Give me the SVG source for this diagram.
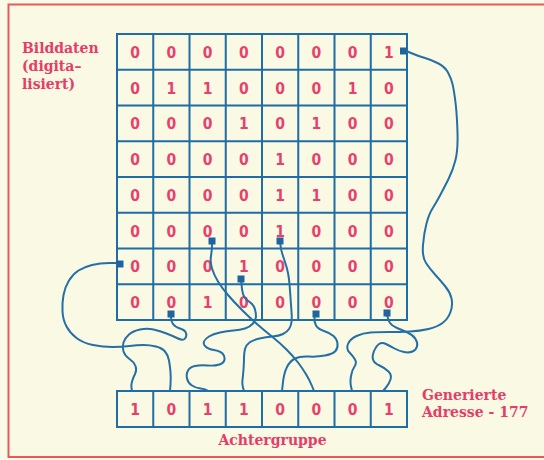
<svg xmlns="http://www.w3.org/2000/svg" width="544" height="460" viewBox="0 0 544 460">
<style>
.lbl{font-family:"DejaVu Serif","Liberation Serif",serif;font-weight:bold;font-size:14px;fill:#e63d68}
.d{font-family:"DejaVu Sans Condensed","Liberation Sans",Arial,sans-serif;font-weight:bold;font-size:15.5px;fill:#e8406c;text-anchor:middle}
.grid{fill:none;stroke:#1f6da4;stroke-width:2}
.wire{fill:none;stroke:#2470a6;stroke-width:2;stroke-linecap:round;stroke-linejoin:round}
.dot{fill:#1f64a0}
</style>
<rect x="0" y="0" width="544" height="460" fill="#fafae8"/>
<rect x="8.5" y="4.5" width="600" height="452.5" fill="#f9f9e4" stroke="#e85a5a" stroke-width="2"/>

<g id="label-bilddaten">
<text class="lbl" x="22" y="53">Bilddaten</text>
<text class="lbl" x="22" y="71">(digita–</text>
<text class="lbl" x="22" y="89">lisiert)</text>
</g>
<g id="label-adresse">
<text class="lbl" x="422" y="400">Generierte</text>
<text class="lbl" x="422" y="417">Adresse - 177</text>
</g>
<g id="label-achtergruppe">
<text class="lbl" x="272.5" y="445" text-anchor="middle">Achtergruppe</text>
</g>

<g id="bildmatrix">
<rect class="grid" x="117" y="34" width="290" height="286"/>
<path class="grid" d="M153.25,34V320M189.5,34V320M225.75,34V320M262,34V320M298.25,34V320M334.5,34V320M370.75,34V320M117,69.75H407M117,105.5H407M117,141.25H407M117,177H407M117,212.75H407M117,248.5H407M117,284.25H407"/>
<g>
<text class="d" x="135.1" y="57.8">0</text><text class="d" x="171.4" y="57.8">0</text><text class="d" x="207.6" y="57.8">0</text><text class="d" x="243.9" y="57.8">0</text><text class="d" x="280.1" y="57.8">0</text><text class="d" x="316.4" y="57.8">0</text><text class="d" x="352.6" y="57.8">0</text><text class="d" x="388.9" y="57.8">1</text>
<text class="d" x="135.1" y="93.6">0</text><text class="d" x="171.4" y="93.6">1</text><text class="d" x="207.6" y="93.6">1</text><text class="d" x="243.9" y="93.6">0</text><text class="d" x="280.1" y="93.6">0</text><text class="d" x="316.4" y="93.6">0</text><text class="d" x="352.6" y="93.6">1</text><text class="d" x="388.9" y="93.6">0</text>
<text class="d" x="135.1" y="129.3">0</text><text class="d" x="171.4" y="129.3">0</text><text class="d" x="207.6" y="129.3">0</text><text class="d" x="243.9" y="129.3">1</text><text class="d" x="280.1" y="129.3">0</text><text class="d" x="316.4" y="129.3">1</text><text class="d" x="352.6" y="129.3">0</text><text class="d" x="388.9" y="129.3">0</text>
<text class="d" x="135.1" y="165.1">0</text><text class="d" x="171.4" y="165.1">0</text><text class="d" x="207.6" y="165.1">0</text><text class="d" x="243.9" y="165.1">0</text><text class="d" x="280.1" y="165.1">1</text><text class="d" x="316.4" y="165.1">0</text><text class="d" x="352.6" y="165.1">0</text><text class="d" x="388.9" y="165.1">0</text>
<text class="d" x="135.1" y="200.8">0</text><text class="d" x="171.4" y="200.8">0</text><text class="d" x="207.6" y="200.8">0</text><text class="d" x="243.9" y="200.8">0</text><text class="d" x="280.1" y="200.8">1</text><text class="d" x="316.4" y="200.8">1</text><text class="d" x="352.6" y="200.8">0</text><text class="d" x="388.9" y="200.8">0</text>
<text class="d" x="135.1" y="236.6">0</text><text class="d" x="171.4" y="236.6">0</text><text class="d" x="207.6" y="236.6">0</text><text class="d" x="243.9" y="236.6">0</text><text class="d" x="280.1" y="236.6">1</text><text class="d" x="316.4" y="236.6">0</text><text class="d" x="352.6" y="236.6">0</text><text class="d" x="388.9" y="236.6">0</text>
<text class="d" x="135.1" y="272.3">0</text><text class="d" x="171.4" y="272.3">0</text><text class="d" x="207.6" y="272.3">0</text><text class="d" x="243.9" y="272.3">1</text><text class="d" x="280.1" y="272.3">0</text><text class="d" x="316.4" y="272.3">0</text><text class="d" x="352.6" y="272.3">0</text><text class="d" x="388.9" y="272.3">0</text>
<text class="d" x="135.1" y="308.1">0</text><text class="d" x="171.4" y="308.1">0</text><text class="d" x="207.6" y="308.1">1</text><text class="d" x="243.9" y="308.1">0</text><text class="d" x="280.1" y="308.1">0</text><text class="d" x="316.4" y="308.1">0</text><text class="d" x="352.6" y="308.1">0</text><text class="d" x="388.9" y="308.1">0</text>
</g>
</g>

<g id="achtergruppe">
<rect class="grid" x="117" y="391" width="290" height="36"/>
<path class="grid" d="M153.25,391V427M189.5,391V427M225.75,391V427M262,391V427M298.25,391V427M334.5,391V427M370.75,391V427"/>
<text class="d" x="135.1" y="414.8">1</text><text class="d" x="171.4" y="414.8">0</text><text class="d" x="207.6" y="414.8">1</text><text class="d" x="243.9" y="414.8">1</text><text class="d" x="280.1" y="414.8">0</text><text class="d" x="316.4" y="414.8">0</text><text class="d" x="352.6" y="414.8">0</text><text class="d" x="388.9" y="414.8">1</text>
</g>

<g id="connectors">
<path class="wire" d="M404,50 L411,53 Q418,56 425,58 Q432,60 438.5,63.5 Q445,67 448,72.5 Q451,78 452.5,84 Q454,90 455.5,102.5 Q457,115 457.5,132.5 Q458,150 455.5,160 Q453,170 448.5,179 Q444,188 440,195.5 Q436,203 432.5,208.5 Q429,214 426.5,223.5 Q424,233 423,245 Q422,257 426,263 Q430,269 435,274.5 Q440,280 445,286 Q450,292 451.5,298.5 Q453,305 450.5,312 Q448,319 442.5,323 Q437,327 428.5,329 Q420,331 410,331.5 Q400,332 389,332 Q378,332 370.5,332.5 Q363,333 356.5,336 Q350,339 348,344 Q346,349 349.5,352.5 Q353,356 355,359.5 Q357,363 354.5,366.5 Q352,370 351,376 Q350,382 351,386.5 L352,391"/>
<path class="wire" d="M387,313 L387.5,316.5 Q388,320 390,323 Q392,326 397,328 Q402,330 407.5,332.5 Q413,335 415.5,339 Q418,343 417,346.5 Q416,350 412.5,351.5 Q409,353 404,352 Q399,351 394.5,348.5 Q390,346 386,344 Q382,342 379,344 Q376,346 374,351 Q372,356 373,359.5 Q374,363 379.5,365.5 Q385,368 388.5,371.5 Q392,375 390.5,379.5 Q389,384 386,387.5 L383,391"/>
<path class="wire" d="M315,313 L314.5,317.5 Q314,322 316,325.5 Q318,329 324,331 Q330,333 333.5,336 Q337,339 337.5,343.5 Q338,348 335.5,351 Q333,354 325,355.5 Q317,357 308.5,356.5 Q300,356 295,358.5 Q290,361 287,367 Q284,373 283,382 L282,391"/>
<path class="wire" d="M212,241 L212,245.5 Q212,250 211,256 Q210,262 212,268.5 Q214,275 218,281.5 Q222,288 228,295 Q234,302 242,310 Q250,318 257.5,324.5 Q265,331 272.5,337 Q280,343 286.5,349.5 Q293,356 298,362.5 Q303,369 306.5,375 Q310,381 312,386 L314,391"/>
<path class="wire" d="M280,241 L280.5,245.5 Q281,250 282.5,254.5 Q284,259 285.5,263.5 Q287,268 288,273 Q289,278 289.5,284 Q290,290 290.5,297.5 Q291,305 291.5,311.5 Q292,318 291.5,322 Q291,326 289,329 Q287,332 283,334 Q279,336 272.5,336.5 Q266,337 259.5,338.5 Q253,340 249.5,342.5 Q246,345 245,349 Q244,353 244,358 Q244,363 243.5,369.5 Q243,376 242.5,380 Q242,384 243,387.5 L244,391"/>
<path class="wire" d="M241,279 L241.5,284.5 Q242,290 243,294 Q244,298 247,300 Q250,302 252,304 Q254,306 255,309.5 Q256,313 256,316.5 Q256,320 253,323.5 Q250,327 245,328.5 Q240,330 233.5,330.5 Q227,331 220,332.5 Q213,334 209,336.5 Q205,339 204,341.5 Q203,344 205.5,346.5 Q208,349 214,350 Q220,351 222.5,353.5 Q225,356 224.5,359.5 Q224,363 219.5,364.5 Q215,366 207.5,365.5 Q200,365 195,366 Q190,367 188,370.5 Q186,374 187,378.5 Q188,383 192,385.5 Q196,388 200.5,388.5 Q205,389 206.5,390 L208,391"/>
<path class="wire" d="M171,314 L171,317.5 Q171,321 173,324 Q175,327 180,328.5 Q185,330 186,333 Q187,336 185,338.5 Q183,341 178,338.5 Q173,336 166.5,333.5 Q160,331 153.5,329.5 Q147,328 140,329.5 Q133,331 129,334.5 Q125,338 123.5,342.5 Q122,347 123.5,351.5 Q125,356 129.5,359 Q134,362 135.5,366 Q137,370 135,374 Q133,378 132,381.5 Q131,385 131.5,388 L132,391"/>
<path class="wire" d="M119,263 L109.5,263 Q100,263 92,265 Q84,267 78.5,270.5 Q73,274 69,280.5 Q65,287 63.5,295 Q62,303 62.5,311.5 Q63,320 66.5,326.5 Q70,333 76.5,338 Q83,343 93,345 Q103,347 112.5,347 Q122,347 129.5,346 Q137,345 143.5,345 Q150,345 156,346.5 Q162,348 165,351.5 Q168,355 169,360.5 Q170,366 170.5,372 Q171,378 170.5,384.5 L170,391"/>
<rect class="dot" x="400" y="47.5" width="7" height="7"/>
<rect class="dot" x="116.5" y="260.5" width="7" height="7"/>
<rect class="dot" x="208.5" y="237.5" width="7" height="7"/>
<rect class="dot" x="276.5" y="237.5" width="7" height="7"/>
<rect class="dot" x="237.5" y="275.5" width="7" height="7"/>
<rect class="dot" x="167.5" y="310.5" width="7" height="7"/>
<rect class="dot" x="312.5" y="310.5" width="7" height="7"/>
<rect class="dot" x="383.5" y="309.5" width="7" height="7"/>
</g>
</svg>
